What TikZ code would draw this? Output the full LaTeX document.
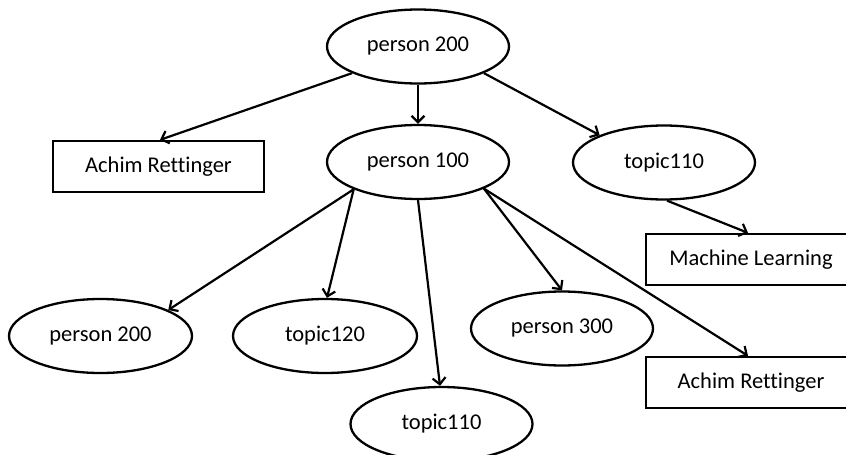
\documentclass[tikz,border=0pt]{standalone}
\usepackage{fontspec}
\setmainfont{Carlito}[Ligatures=NoCommon]
\usetikzlibrary{shapes.geometric,arrows.meta}
\tikzset{
  ell/.style={ellipse, draw, line width=2.3pt, minimum width=182pt, minimum height=74pt, inner sep=0pt},
  box/.style={rectangle, draw, line width=2.3pt, minimum width=210pt, minimum height=51pt, inner sep=0pt},
  link/.style={line width=2.2pt, -{Straight Barb[length=6.5pt,width=13pt]}}
}
\begin{document}
\begin{tikzpicture}[x=1pt, y=-1pt, font=\fontsize{22.5}{27}\selectfont]
\clip (0,0) rectangle (846,455);
\fill[white] (0,0) rectangle (846,455);

% nodes
\node[ell] (p200t) at (418,46.5) {person 200};
\node[box, minimum width=211pt] (achimL) at (158.5,166.5) {Achim Rettinger};
\node[ell] (p100) at (418,162) {person 100};
\node[ell] (t110r) at (664,162.5) {topic110};
\node[box] (ml) at (751,259.5) {Machine Learning};
\node[ell, minimum width=183pt] (p200b) at (100.5,336) {person 200};
\node[ell, minimum width=184pt] (t120) at (325,336) {topic120};
\node[ell] (p300) at (562,328.5) {person 300};
\node[box] (achimR) at (751,382.5) {Achim Rettinger};
\node[ell] (t110b) at (441.5,424) {topic110};

% connectors
\draw[link] (p200t.202) -- ([xshift=1.5pt]achimL.north);
\draw[link] (p200t.south) -- (p100.north);
\draw[link] (p200t.-22) -- (t110r.157);
\draw[link] ([xshift=3pt]t110r.south) -- ([xshift=-3pt]ml.north);
\draw[link] (p100.203) -- (p200b.21);
\draw[link] (p100.203) -- ([xshift=2pt]t120.north);
\draw[link] (p100.south) -- ([xshift=-1.5pt]t110b.north);
\draw[link] (p100.-22) -- (p300.north);
\draw[link] (p100.-22) -- ([xshift=-3pt]achimR.north);
\end{tikzpicture}
\end{document}
